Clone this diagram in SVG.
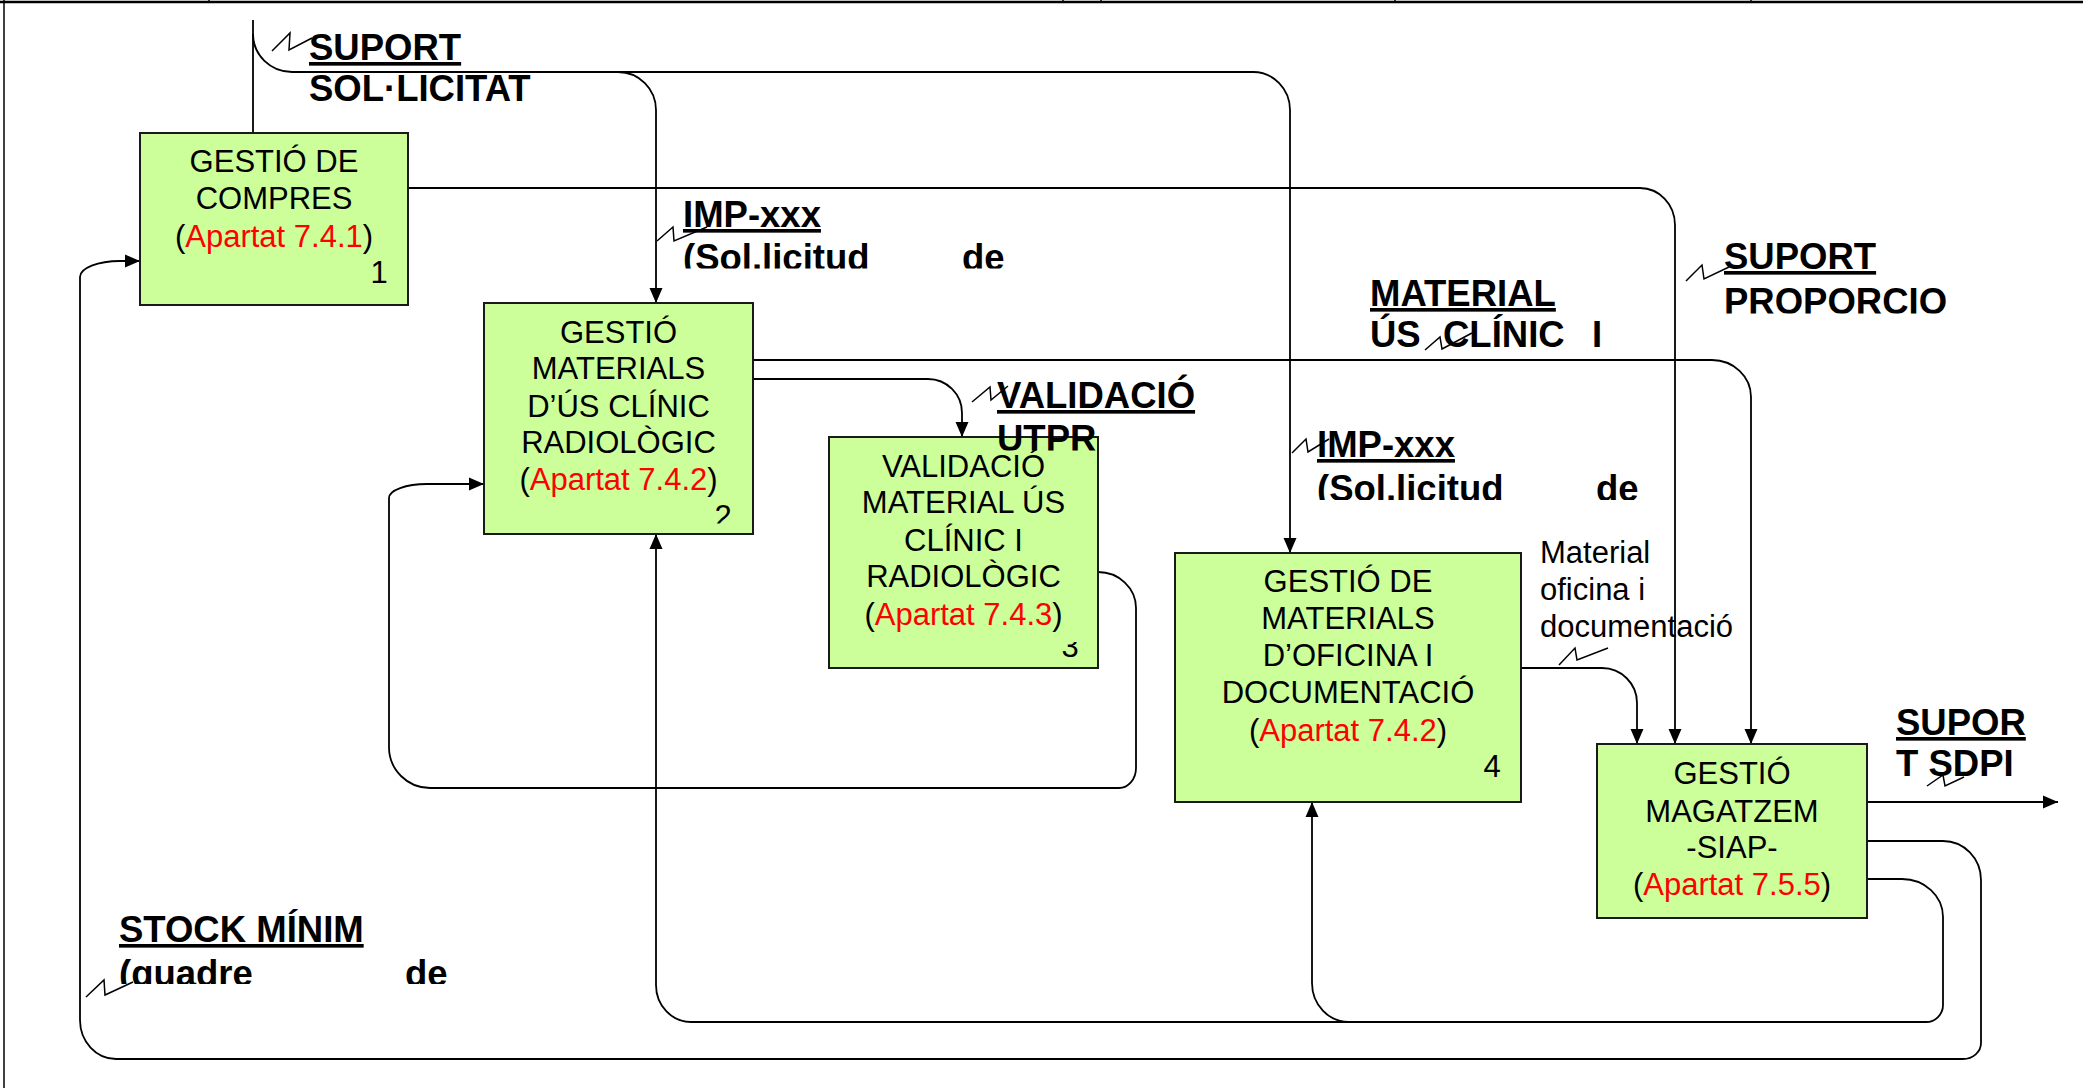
<svg xmlns="http://www.w3.org/2000/svg" width="2083" height="1088" viewBox="0 0 2083 1088">
<defs>
<style>
 .box{fill:#CCFF99;stroke:#1a1a1a;stroke-width:2}
 .n{font-family:"Liberation Sans",Arial,sans-serif;font-size:31px;text-anchor:middle;fill:#000}
 .r{fill:#FF0000}
 .lb{font-family:"Liberation Sans",Arial,sans-serif;font-size:36.5px;font-weight:bold;fill:#000}
 .u{text-decoration:underline}
 .lt{font-family:"Liberation Sans",Arial,sans-serif;font-size:31px;fill:#000}
 .c{fill:none;stroke:#000;stroke-width:1.8}
 .ca{fill:none;stroke:#000;stroke-width:1.8;marker-end:url(#arr)}
 .z{fill:none;stroke:#000;stroke-width:1.5}
</style>
<marker id="arr" markerUnits="userSpaceOnUse" markerWidth="16" markerHeight="14" refX="15" refY="7" orient="auto">
  <path d="M0,0.5 L15,7 L0,13.5 z" fill="#000"/>
</marker>
<!-- text frames of the flow labels cut off their overflowing lines -->
<clipPath id="clipL2"><rect x="660" y="180" width="380" height="88.5"/></clipPath>
<clipPath id="clipL4"><rect x="1700" y="230" width="300" height="83.5"/></clipPath>
<clipPath id="clipL5"><rect x="990" y="370" width="240" height="80.5"/></clipPath>
<clipPath id="clipL6"><rect x="1300" y="420" width="360" height="80"/></clipPath>
<clipPath id="clipL9"><rect x="100" y="900" width="380" height="84"/></clipPath>
<clipPath id="clipN2"><rect x="700" y="490" width="50" height="33.5"/></clipPath>
<clipPath id="clipN3"><rect x="1050" y="642" width="45" height="25"/></clipPath>
</defs>

<rect width="2083" height="1088" fill="#fff"/>

<!-- page frame -->
<g id="frame" stroke="#000" fill="none">
  <line x1="0" y1="2" x2="2083" y2="2" stroke-width="2.5"/>
  <line x1="4" y1="0" x2="4" y2="1088" stroke-width="1.5"/>
  <path d="M209,0V3 M1063,0V3 M1101,0V3 M1395,0V3 M1751,0V3" stroke-width="1.5"/>
</g>

<!-- flows between processes -->
<g id="connectors">
  <path class="c" d="M253,133 V20"/>
  <path class="ca" d="M253,34 A39,38 0 0 0 292,72 H618 A38,38 0 0 1 656,110 V303"/>
  <path class="ca" d="M618,72 H1253 A37,38 0 0 1 1290,110 V553"/>
  <path class="ca" d="M408,188 H1640 A35,37 0 0 1 1675,225 V744"/>
  <path class="ca" d="M753,360 H1712 A39,37 0 0 1 1751,397 V744"/>
  <path class="ca" d="M753,379 H928 A34,34 0 0 1 962,413 V437"/>
  <path class="ca" d="M1098,572 A38,36 0 0 1 1136,608 V768 A17,20 0 0 1 1119,788 H430 A41,41 0 0 1 389,747 V498 A38,14 0 0 1 427,484 H484"/>
  <path class="ca" d="M1867,841 H1943 A38,39 0 0 1 1981,880 V1043 A18,16 0 0 1 1963,1059 H116 A36,39 0 0 1 80,1020 V277 A40,16 0 0 1 120,261 H140"/>
  <path class="ca" d="M1867,879 H1902 A41,38 0 0 1 1943,917 V1005 A17,17 0 0 1 1926,1022 H691 A35,37 0 0 1 656,985 V534"/>
  <path class="ca" d="M1349,1022 A37,39 0 0 1 1312,983 V802"/>
  <path class="ca" d="M1521,668 H1602 A35,35 0 0 1 1637,703 V744"/>
  <path class="ca" d="M1867,802 H2058"/>
</g>

<!-- processes -->
<g id="n1">
  <rect class="box" x="140" y="133" width="268" height="172"/>
  <text class="n" x="274" y="172">GESTIÓ DE</text>
  <text class="n" x="274" y="209">COMPRES</text>
  <text class="n" x="274" y="246.7">(<tspan class="r">Apartat 7.4.1</tspan>)</text>
  <text class="n" x="379" y="283">1</text>
</g>
<g id="n2">
  <rect class="box" x="484" y="303" width="269" height="231"/>
  <text class="n" x="618.5" y="342.7">GESTIÓ</text>
  <text class="n" x="618.5" y="379.3">MATERIALS</text>
  <text class="n" x="618.5" y="416.7">D’ÚS CLÍNIC</text>
  <text class="n" x="618.5" y="453.3">RADIOLÒGIC</text>
  <text class="n" x="618.5" y="490">(<tspan class="r">Apartat 7.4.2</tspan>)</text>
  <text class="n" x="723" y="527" clip-path="url(#clipN2)">2</text>
</g>
<g id="n3">
  <rect class="box" x="829" y="437" width="269" height="231"/>
  <text class="n" x="963.5" y="477.3">VALIDACIÓ</text>
  <text class="n" x="963.5" y="513.3">MATERIAL ÚS</text>
  <text class="n" x="963.5" y="550.7">CLÍNIC I</text>
  <text class="n" x="963.5" y="587.3">RADIOLÒGIC</text>
  <text class="n" x="963.5" y="625">(<tspan class="r">Apartat 7.4.3</tspan>)</text>
  <text class="n" x="1070" y="657" clip-path="url(#clipN3)">3</text>
</g>
<g id="n4">
  <rect class="box" x="1175" y="553" width="346" height="249"/>
  <text class="n" x="1348" y="591.7">GESTIÓ DE</text>
  <text class="n" x="1348" y="629.3">MATERIALS</text>
  <text class="n" x="1348" y="666">D’OFICINA I</text>
  <text class="n" x="1348" y="702.7">DOCUMENTACIÓ</text>
  <text class="n" x="1348" y="741">(<tspan class="r">Apartat 7.4.2</tspan>)</text>
  <text class="n" x="1492" y="777">4</text>
</g>
<g id="n5">
  <rect class="box" x="1597" y="744" width="270" height="174"/>
  <text class="n" x="1732" y="784">GESTIÓ</text>
  <text class="n" x="1732" y="821.7">MAGATZEM</text>
  <text class="n" x="1732" y="858.3">-SIAP-</text>
  <text class="n" x="1732" y="895">(<tspan class="r">Apartat 7.5.5</tspan>)</text>
</g>

<!-- flow labels with their leader squiggles -->
<g id="labels">
  <polyline class="z" points="272,51 290,33 289,50 312,38"/>
  <text class="lb u" x="309" y="60">SUPORT</text>
  <text class="lb" x="309" y="101">SOL·LICITAT</text>

  <polyline class="z" points="657,241 673,227 674,241 707,227"/>
  <g clip-path="url(#clipL2)">
    <text class="lb u" x="683" y="227">IMP-xxx</text>
    <text class="lb" x="683" y="270">(Sol.licitud</text>
    <text class="lb" x="962" y="270">de</text>
  </g>

  <text class="lb u" x="1370" y="306">MATERIAL</text>
  <text class="lb" x="1370" y="347">ÚS</text>
  <text class="lb" x="1443" y="347">CLÍNIC</text>
  <text class="lb" x="1592" y="347">I</text>
  <polyline class="z" points="1425,350 1440,337 1442,349 1472,333"/>

  <polyline class="z" points="1686,281 1702,265 1704,279 1729,267"/>
  <g clip-path="url(#clipL4)">
    <text class="lb u" x="1724" y="269">SUPORT</text>
    <text class="lb" x="1724" y="313.5">PROPORCIO</text>
  </g>

  <polyline class="z" points="972,402 990,387 991,400 1008,386"/>
  <g clip-path="url(#clipL5)">
    <text class="lb u" x="997" y="408">VALIDACIÓ</text>
    <text class="lb" x="997" y="451">UTPR</text>
  </g>

  <polyline class="z" points="1292,453 1306,439 1308,452 1329,439"/>
  <g clip-path="url(#clipL6)">
    <text class="lb u" x="1317" y="457">IMP-xxx</text>
    <text class="lb" x="1317" y="501">(Sol.licitud</text>
    <text class="lb" x="1596" y="501">de</text>
  </g>

  <text class="lt" x="1540" y="563">Material</text>
  <text class="lt" x="1540" y="600">oficina i</text>
  <text class="lt" x="1540" y="637">documentació</text>
  <polyline class="z" points="1559,665 1575,648 1577,660 1608,648"/>

  <text class="lb u" x="1896" y="735">SUPOR</text>
  <text class="lb" x="1896" y="776">T SDPI</text>
  <polyline class="z" points="1927,786 1943,775 1945,786 1964,777"/>

  <g clip-path="url(#clipL9)">
    <text class="lb u" x="119" y="942">STOCK MÍNIM</text>
    <text class="lb" x="119" y="986">(quadre</text>
    <text class="lb" x="405" y="986">de</text>
  </g>
  <polyline class="z" points="86,997 104,980 105,995 133,982"/>
</g>
</svg>
